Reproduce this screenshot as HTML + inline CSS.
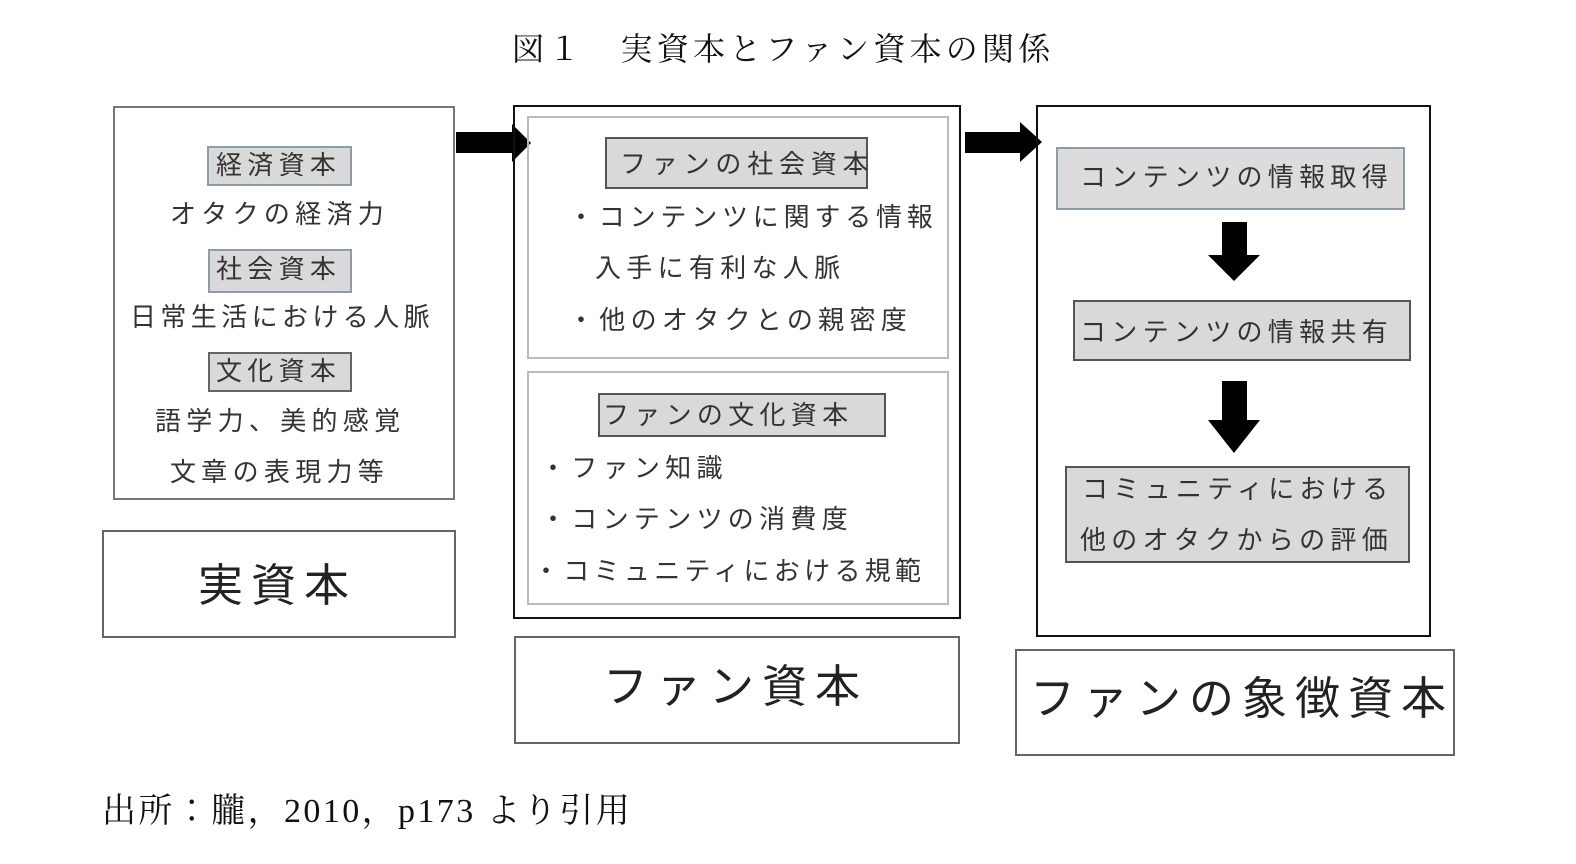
<!DOCTYPE html>
<html><head><meta charset="utf-8">
<style>
body{margin:0;width:1576px;height:864px;background:#fff;position:relative;overflow:hidden;font-family:"Liberation Sans","Noto Sans CJK JP",sans-serif;color:#333}
.b{position:absolute;box-sizing:border-box}
.t{position:absolute;white-space:nowrap;line-height:1;font-size:26px;letter-spacing:5.3px;color:#333}
.g{background:#d9d9d9}
.big{font-size:45px;letter-spacing:8px;color:#222}
.serif{font-family:"Liberation Serif","Noto Serif CJK JP",serif;color:#111}
</style></head><body>
<div class="t serif" style="left:512px;top:33px;font-size:32px;letter-spacing:4.2px">図１　実資本とファン資本の関係</div>

<div class="b" style="left:113px;top:106px;width:342px;height:394px;border:2px solid #777"></div>
<div class="b g" style="left:207px;top:146px;width:145px;height:40px;border:2px solid #8d9bab"></div>
<div class="t" style="left:216px;top:152px">経済資本</div>
<div class="t" style="left:170px;top:201px">オタクの経済力</div>
<div class="b g" style="left:208px;top:249px;width:144px;height:44px;border:2px solid #8d9bab"></div>
<div class="t" style="left:216px;top:256px">社会資本</div>
<div class="t" style="left:130px;top:304px;letter-spacing:4.4px">日常生活における人脈</div>
<div class="b g" style="left:208px;top:352px;width:144px;height:40px;border:2px solid #666"></div>
<div class="t" style="left:216px;top:358px">文化資本</div>
<div class="t" style="left:155px;top:408px">語学力、美的感覚</div>
<div class="t" style="left:170px;top:459px">文章の表現力等</div>
<div class="b" style="left:102px;top:530px;width:354px;height:108px;border:2px solid #666"></div>
<div class="t big" style="left:198px;top:563px">実資本</div>

<svg class="b" style="left:0;top:0" width="1576" height="864">
<polygon points="456,132 512,132 512,124 531,143 512,162 512,153 456,153" fill="#000"/>
<polygon points="965,132 1020,132 1020,122 1042,142 1020,162 1020,153 965,153" fill="#000"/>
<polygon points="1222,222 1247,222 1247,255 1260,255 1234,281 1208,255 1222,255" fill="#000"/>
<polygon points="1222,381 1247,381 1247,420 1260,420 1234,453 1208,420 1222,420" fill="#000"/>
</svg>

<div class="b" style="left:513px;top:105px;width:448px;height:514px;border:2px solid #111"></div>
<div class="b" style="left:527px;top:116px;width:422px;height:243px;border:2px solid #bbb"></div>
<div class="b" style="left:527px;top:371px;width:422px;height:234px;border:2px solid #bbb"></div>
<div class="b g" style="left:605px;top:137px;width:263px;height:52px;border:2px solid #555"></div>
<div class="t" style="left:620px;top:151px;letter-spacing:5.8px">ファンの社会資本</div>
<div class="t" style="left:568px;top:204px;letter-spacing:4.8px">・コンテンツに関する情報</div>
<div class="t" style="left:595px;top:255px">入手に有利な人脈</div>
<div class="t" style="left:568px;top:307px">・他のオタクとの親密度</div>
<div class="b g" style="left:598px;top:393px;width:288px;height:44px;border:2px solid #555"></div>
<div class="t" style="left:603px;top:402px">ファンの文化資本</div>
<div class="t" style="left:540px;top:455px">・ファン知識</div>
<div class="t" style="left:540px;top:506px">・コンテンツの消費度</div>
<div class="t" style="left:533px;top:558px;letter-spacing:4.3px">・コミュニティにおける規範</div>
<div class="b" style="left:514px;top:636px;width:446px;height:108px;border:2px solid #666"></div>
<div class="t big" style="left:603px;top:664px">ファン資本</div>

<div class="b" style="left:1036px;top:105px;width:395px;height:532px;border:2px solid #111"></div>
<div class="b" style="left:1056px;top:147px;width:349px;height:63px;border:2px solid #8d9bab;background:#dcdcdc"></div>
<div class="t" style="left:1080px;top:164px">コンテンツの情報取得</div>
<div class="b g" style="left:1073px;top:300px;width:338px;height:61px;border:2px solid #555"></div>
<div class="t" style="left:1080px;top:319px">コンテンツの情報共有</div>
<div class="b g" style="left:1065px;top:466px;width:345px;height:97px;border:2px solid #555"></div>
<div class="t" style="left:1082px;top:476px">コミュニティにおける</div>
<div class="t" style="left:1080px;top:527px">他のオタクからの評価</div>
<div class="b" style="left:1015px;top:649px;width:440px;height:107px;border:2px solid #666"></div>
<div class="t big" style="left:1030px;top:676px">ファンの象徴資本</div>

<div class="t serif" style="left:102px;top:795px;font-size:34px;letter-spacing:2.4px">出所：朧，2010，p173 より引用</div>
</body></html>
